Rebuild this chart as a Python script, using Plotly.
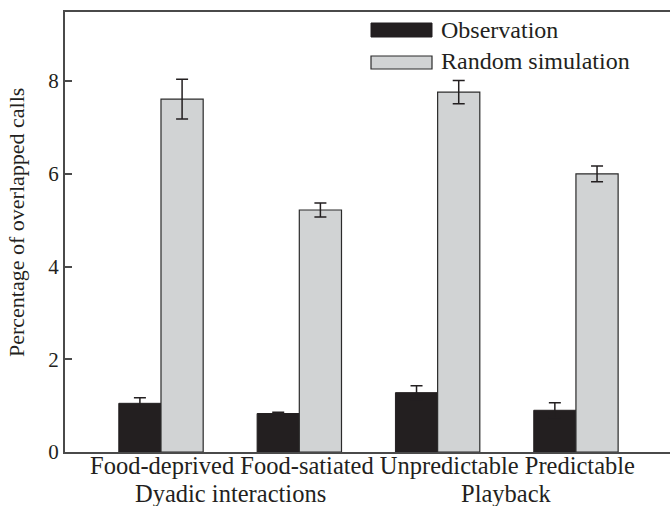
import plotly.graph_objects as go

# ---- data ----
conditions = ["Food-deprived", "Food-satiated", "Unpredictable", "Predictable"]
groups = ["Dyadic interactions", "Playback"]
observation = [1.05, 0.83, 1.28, 0.90]
observation_err = [0.12, 0.03, 0.15, 0.16]
random_sim = [7.61, 5.22, 7.76, 6.00]
random_sim_err = [0.43, 0.15, 0.25, 0.17]
y_ticks = [0, 2, 4, 6, 8]
series_names = ["Observation", "Random simulation"]

FONT = "Liberation Serif"
TXT = "#231f20"
BLACK = "#231f20"
GRAY = "#d1d3d4"
AXIS = "#4a4a4a"
W, H = 670, 506
ML, MR, MT, MB = 65, 0, 12, 54
pw, ph = W - ML - MR, H - MT - MB


def px(x):
    return (x - ML) / pw


def py(y):
    return (H - MB - y) / ph


xpos = list(range(len(conditions)))

fig = go.Figure()
fig.add_trace(go.Bar(
    x=xpos, y=observation, name=series_names[0],
    marker=dict(color=BLACK, line=dict(color=BLACK, width=1)),
    error_y=dict(type="data", array=observation_err, color=TXT, thickness=1.5, width=6),
    showlegend=False,
))
fig.add_trace(go.Bar(
    x=xpos, y=random_sim, name=series_names[1],
    marker=dict(color=GRAY, line=dict(color="#2b2b2b", width=1.2)),
    error_y=dict(type="data", array=random_sim_err, color=TXT, thickness=1.5, width=6),
    showlegend=False,
))

fig.update_layout(
    width=W, height=H,
    margin=dict(l=ML, r=MR, t=MT, b=MB),
    paper_bgcolor="white", plot_bgcolor="white",
    barmode="group", bargap=0.39, bargroupgap=0,
    font=dict(family=FONT, size=22, color=TXT),
    showlegend=False,
)
fig.update_xaxes(
    range=[-0.694, 3.68], showgrid=False, zeroline=False,
    showline=True, linecolor=AXIS, linewidth=2, mirror=True,
    ticks="", showticklabels=False, fixedrange=True,
)
fig.update_yaxes(
    range=[0, 9.49], tickvals=y_ticks, ticktext=[str(v) for v in y_ticks],
    showgrid=False, zeroline=False,
    showline=True, linecolor=AXIS, linewidth=2,
    ticks="inside", ticklen=7, tickwidth=1.5, tickcolor=AXIS,
    tickfont=dict(family=FONT, size=21, color=TXT),
    ticklabelstandoff=0,
)

LBL = dict(family=FONT, size=24.5, color=TXT)
annotations = [
    dict(x=px(362), y=py(465), xref="paper", yref="paper",
         text=" ".join(conditions), showarrow=False,
         xanchor="center", yanchor="middle", font=LBL),
    dict(x=0.5, y=py(493), xref="x", yref="paper", text=groups[0], showarrow=False,
         xanchor="center", yanchor="middle", font=LBL),
    dict(x=2.5, y=py(493), xref="x", yref="paper", text=groups[1], showarrow=False,
         xanchor="center", yanchor="middle", font=LBL),
    dict(x=px(17), y=py(223), xref="paper", yref="paper",
         text="Percentage of overlapped calls", showarrow=False, textangle=-90,
         xanchor="center", yanchor="middle", font=dict(family=FONT, size=22, color=TXT)),
    dict(x=px(439), y=py(30), xref="paper", yref="paper", text=series_names[0],
         showarrow=False, xanchor="left", yanchor="middle", font=dict(family=FONT, size=24, color=TXT)),
    dict(x=px(439), y=py(61), xref="paper", yref="paper", text=series_names[1],
         showarrow=False, xanchor="left", yanchor="middle", font=dict(family=FONT, size=24, color=TXT)),
]

shapes = [
    dict(type="rect", xref="paper", yref="paper",
         x0=px(371), x1=px(432), y0=py(37), y1=py(23),
         fillcolor=BLACK, line=dict(color=BLACK, width=1)),
    dict(type="rect", xref="paper", yref="paper",
         x0=px(371), x1=px(432), y0=py(69), y1=py(56),
         fillcolor=GRAY, line=dict(color="#2b2b2b", width=1.2)),
]
fig.update_layout(annotations=annotations, shapes=shapes)

fig.write_html("out.html", config={"displayModeBar": False},
               post_script="document.body.style.margin='0px';")
